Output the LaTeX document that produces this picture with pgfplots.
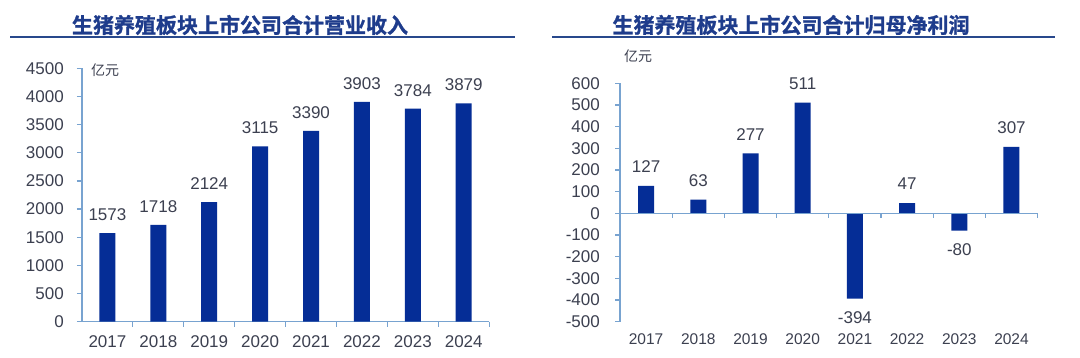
\documentclass[border=0pt]{standalone}
\usepackage{pgfplots}
\pgfplotsset{compat=1.18}
\usepackage{fontspec}
\setmainfont{Liberation Sans}
\newfontfamily\cjk{Noto Sans CJK SC}
\newfontfamily\cjkb{Noto Sans CJK SC Bold}[FakeBold=1.2]
\definecolor{barblue}{RGB}{5,45,150}
\definecolor{axcol}{RGB}{120,163,208}
\definecolor{titlecol}{RGB}{30,60,140}
\definecolor{linecol}{RGB}{40,72,140}
\definecolor{txtcol}{RGB}{60,64,80}
\begin{document}
\begin{tikzpicture}[x=1pt,y=1pt]
\fill[white] (0,0) rectangle (1080,357);
% titles
\node[font=\cjkb\fontsize{21}{21}\selectfont, text=titlecol] at (240,332) {生猪养殖板块上市公司合计营业收入};
\node[font=\cjkb\fontsize{21}{21}\selectfont, text=titlecol] at (791,332) {生猪养殖板块上市公司合计归母净利润};
\draw[linecol, line width=2pt] (10,320.3) -- (515,320.3);
\draw[linecol, line width=2pt] (552,320.3) -- (1055,320.3);
\node[font=\cjk\fontsize{14}{14}\selectfont, text=txtcol] at (105,287) {亿元};
\node[font=\cjk\fontsize{14}{14}\selectfont, text=txtcol] at (638,301) {亿元};
% left axis
\begin{axis}[
  at={(82pt,35.3pt)}, anchor=south west,
  scale only axis, width=407.2pt, height=253.4pt,
  xmin=-0.5, xmax=7.5, ymin=0, ymax=4500,
  axis x line=bottom, axis y line=left,
  axis line style={-, draw=axcol, line width=1.3pt},
  ytick={0,500,...,4500},
  xtick={0,...,7}, xticklabels={2017,2018,2019,2020,2021,2022,2023,2024},
  major x tick style={draw=none},
  tick align=outside, major tick length=5pt,
  y tick style={draw=axcol, line width=1.2pt},
  tick label style={font=\fontsize{17}{17}\selectfont, text=txtcol},
  yticklabel style={inner sep=0pt, xshift=-13pt},
  xticklabel style={inner sep=0pt, yshift=-9pt},
  /pgf/number format/assume math mode=true,
  /pgf/number format/1000 sep={},
  scaled y ticks=false,
  ybar, bar width=16pt,
  nodes near coords,
  every node near coord/.append style={font=\fontsize{17}{17}\selectfont, text=txtcol, inner sep=0pt, yshift=12pt},
  clip=false,
]
\addplot[fill=barblue, draw=none] coordinates {(0,1573) (1,1718) (2,2124) (3,3115) (4,3390) (5,3903) (6,3784) (7,3879)};
\pgfplotsinvokeforeach{0.5,1.5,...,7.5}{\draw[axcol, line width=1.2pt] (axis cs:#1,0) -- ([yshift=-5pt]axis cs:#1,0);}
\end{axis}
% right axis
\begin{axis}[
  at={(620pt,35.3pt)}, anchor=south west,
  scale only axis, width=417.6pt, height=238.4pt,
  xmin=-0.5, xmax=7.5, ymin=-500, ymax=600,
  axis x line=bottom, axis y line=left,
  x axis line style={draw=none},
  y axis line style={-, draw=axcol, line width=1.3pt},
  ytick={-500,-400,...,600},
  xtick={0,...,7}, xticklabels={2017,2018,2019,2020,2021,2022,2023,2024},
  major x tick style={draw=none},
  tick align=outside, major tick length=5pt,
  y tick style={draw=axcol, line width=1.2pt},
  tick label style={font=\fontsize{17}{17}\selectfont, text=txtcol},
  xticklabel style={font=\fontsize{15.5}{15.5}\selectfont, inner sep=0pt, yshift=-7pt},
  yticklabel style={inner sep=0pt, xshift=-15pt},
  /pgf/number format/assume math mode=true,
  /pgf/number format/1000 sep={},
  ybar, bar width=16pt,
  nodes near coords,
  every node near coord/.append style={font=\fontsize{17}{17}\selectfont, text=txtcol, inner sep=0pt, inner ysep=13pt},
  clip=false,
]
\addplot[fill=barblue, draw=none] coordinates {(0,127) (1,63) (2,277) (3,511) (4,-394) (5,47) (6,-80) (7,307)};
\draw[axcol, line width=1.3pt] (axis cs:-0.5,0) -- (axis cs:7.5,0);
\pgfplotsinvokeforeach{0.5,1.5,...,7.5}{\draw[axcol, line width=1.2pt] (axis cs:#1,0) -- ([yshift=-5pt]axis cs:#1,0);}
\end{axis}
\end{tikzpicture}
\end{document}
